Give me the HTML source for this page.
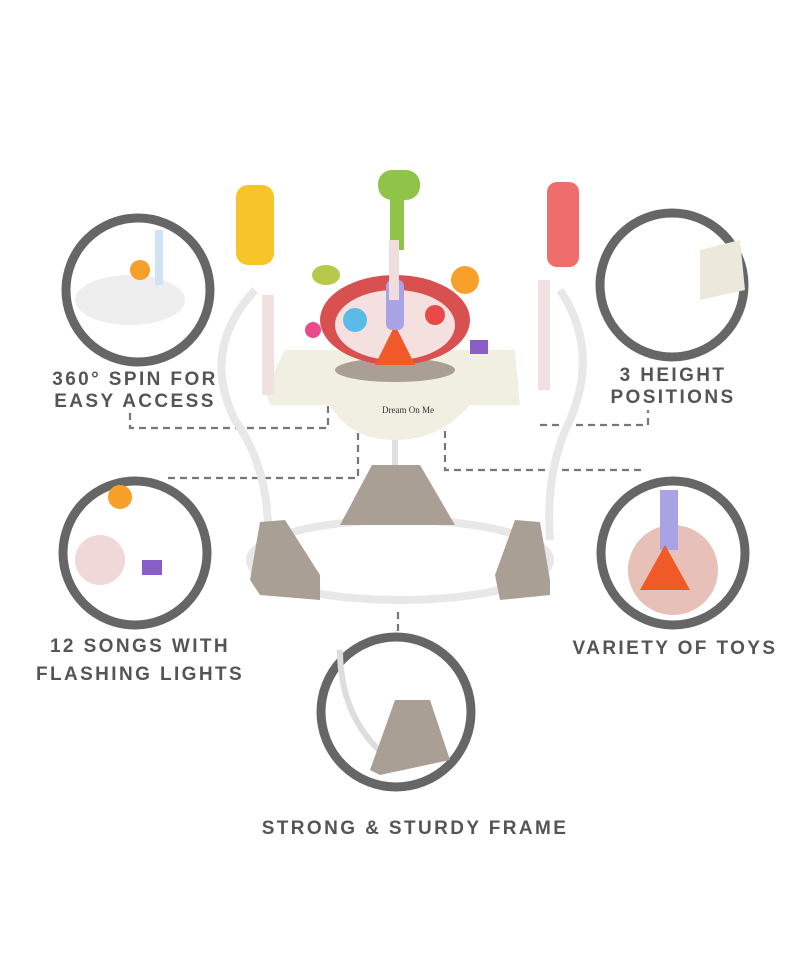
<!DOCTYPE html>
<html><head><meta charset="utf-8"><style>
html,body{margin:0;padding:0;background:#fff;width:800px;height:977px;overflow:hidden}
.t{position:absolute;font-family:"Liberation Sans",sans-serif;font-weight:bold;color:#555;font-size:19px;letter-spacing:2.4px;text-align:center;line-height:22px}
</style></head><body>
<svg width="800" height="977" style="position:absolute;left:0;top:0">
<g fill="none" stroke="#777" stroke-width="2.2" stroke-dasharray="7,5">
<path d="M130 413 V428 H328 V382"/>
<path d="M168 478 H358 V395"/>
<path d="M445 395 V470 H645"/>
<path d="M540 425 H648 V410"/>
<path d="M398 612 V640"/>
</g>
<g stroke="#666" stroke-width="9" fill="#fff">
<circle cx="138" cy="290" r="72"/>
<circle cx="672" cy="285" r="72"/>
<circle cx="135" cy="553" r="72"/>
<circle cx="673" cy="553" r="72"/>
<circle cx="396" cy="712" r="75"/>
</g>
<ellipse cx="130" cy="300" rx="55" ry="25" fill="#eee" />
<circle cx="140" cy="270" r="10" fill="#f6a02a"/>
<rect x="155" y="230" width="8" height="55" fill="#cfe3f4"/>
<circle cx="100" cy="560" r="25" fill="#f0d8d8"/>
<circle cx="120" cy="497" r="12" fill="#f6a02a"/>
<rect x="142" y="560" width="20" height="15" fill="#8a5ec7"/>
<circle cx="673" cy="570" r="45" fill="#e7c0b7"/>
<rect x="660" y="490" width="18" height="60" fill="#a9a3e5"/>
<path d="M640 590 L665 545 L690 590Z" fill="#f05a28"/>
<path d="M700 250 L740 240 L745 290 L700 300Z" fill="#ece9dc"/>
<path d="M340 650 Q340 720 390 760" stroke="#ddd" stroke-width="6" fill="none"/>
<path d="M370 770 L395 700 L430 700 L450 760 L380 775Z" fill="#a99f94"/>
<g stroke="#e8e8e8" stroke-width="8" fill="none">
<path d="M255 290 Q200 350 235 420 Q270 470 268 540"/>
<path d="M560 290 Q600 350 570 420 Q545 470 550 540"/>
<ellipse cx="400" cy="560" rx="150" ry="40"/>
</g>
<line x1="395" y1="430" x2="395" y2="480" stroke="#e0e0e0" stroke-width="6"/>
<path d="M340 525 L372 465 L420 465 L455 525Z" fill="#a99f94"/>
<path d="M250 580 L260 522 L285 520 L320 575 L320 600 L260 595Z" fill="#a99f94"/>
<path d="M550 580 L540 522 L515 520 L495 575 L500 600 L550 595Z" fill="#a99f94"/>
<path d="M265 390 L285 350 L515 350 L520 405 L470 405 Q440 440 395 440 Q350 440 330 405 L270 405Z" fill="#f1efe2"/>
<ellipse cx="395" cy="370" rx="60" ry="12" fill="#a99f94"/>
<ellipse cx="395" cy="320" rx="75" ry="45" fill="#d95050"/>
<ellipse cx="395" cy="325" rx="60" ry="35" fill="#f5e0e0"/>
<circle cx="355" cy="320" r="12" fill="#5bbbe8"/>
<circle cx="435" cy="315" r="10" fill="#e84a4a"/>
<path d="M375 365 L395 325 L415 365Z" fill="#f05a28"/>
<rect x="386" y="280" width="18" height="50" fill="#a9a3e5" rx="6"/>
<text x="408" y="413" font-size="9" font-family="Liberation Serif" text-anchor="middle" fill="#333">Dream On Me</text>
<rect x="236" y="185" width="38" height="80" rx="12" fill="#f7c52a"/>
<rect x="378" y="170" width="42" height="30" rx="14" fill="#8fc449"/>
<rect x="390" y="195" width="14" height="55" fill="#8fc449"/>
<rect x="547" y="182" width="32" height="85" rx="10" fill="#ef6d6a"/>
<rect x="262" y="295" width="12" height="100" fill="#f0e0e0"/>
<rect x="538" y="280" width="12" height="110" fill="#f0e0e0"/>
<rect x="389" y="240" width="10" height="60" fill="#f0dede"/>
<circle cx="465" cy="280" r="14" fill="#f7a02a"/>
<ellipse cx="326" cy="275" rx="14" ry="10" fill="#b7c94a"/>
<rect x="470" y="340" width="18" height="14" fill="#8a5ec7"/>
<circle cx="313" cy="330" r="8" fill="#e84a8a"/>
</svg>
<div class="t" style="left:30px;top:369px;width:210px">360° SPIN FOR<br>EASY ACCESS</div>
<div class="t" style="left:568px;top:365px;width:210px">3 HEIGHT<br>POSITIONS</div>
<div class="t" style="left:20px;top:633px;width:240px;line-height:28px">12 SONGS WITH<br>FLASHING LIGHTS</div>
<div class="t" style="left:560px;top:638px;width:230px">VARIETY OF TOYS</div>
<div class="t" style="left:240px;top:818px;width:350px">STRONG &amp; STURDY FRAME</div>
</body></html>
